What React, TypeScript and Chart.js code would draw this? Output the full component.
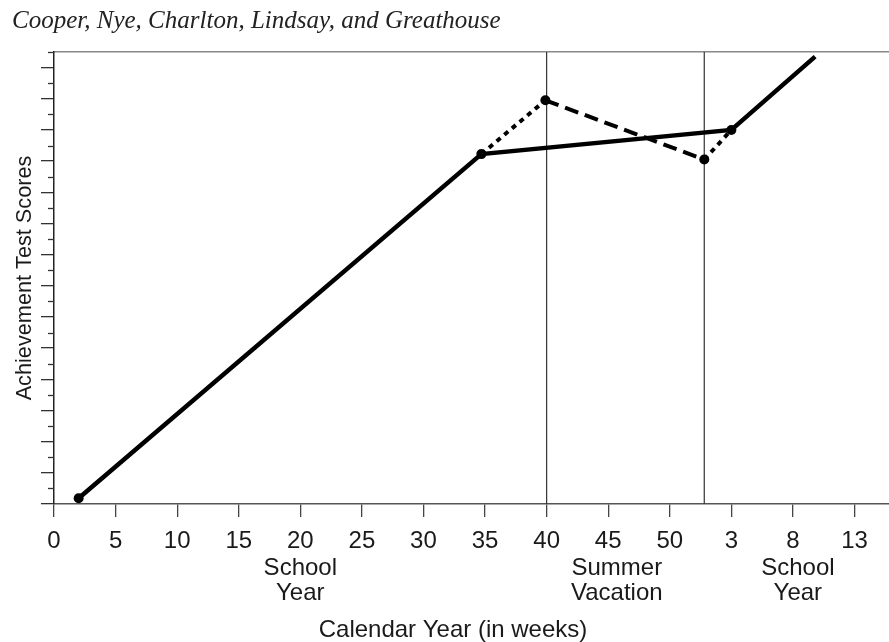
import React, { useEffect, useRef } from "react";
import { Chart, registerables } from "chart.js";

Chart.register(...registerables);

const headerText = "Cooper, Nye, Charlton, Lindsay, and Greathouse";
const yTitle = "Achievement Test Scores";
const xTitle = "Calendar Year (in weeks)";

const xTickValues = [0, 5, 10, 15, 20, 25, 30, 35, 40, 45, 50, 55, 60, 65];
const xTickLabels = ["0", "5", "10", "15", "20", "25", "30", "35", "40", "45", "50", "3", "8", "13"];

const periodLabels = [["School", "Year"], ["Summer", "Vacation"], ["School", "Year"]];
const periodCenters = [20, 45.7, 60.4];

const weekMin = 0;
const weekMax = 67.8;
const scoreMin = 0;
const scoreMax = 29;

// solid line: continuous school-year growth path
const solidWeeks = [2, 34.7, 55, 61.8];
const solidScores = [0.37, 22.45, 24.0, 28.7];
const solidPointRadius = [5, 5, 5, 0];

// dotted rise, dashed summer loss, dotted rebound
const riseWeeks = [34.7, 39.9];
const riseScores = [22.45, 25.9];
const lossWeeks = [39.9, 52.8];
const lossScores = [25.9, 22.1];
const reboundWeeks = [52.8, 55];
const reboundScores = [22.1, 24.0];

const vacationStart = 40;
const yearEnd = 52.8;

const pts = (xs: number[], ys: number[]) => xs.map((x, i) => ({ x, y: ys[i] }));

const annotate = {
  id: "annotate",
  afterDraw(chart: any) {
    const { ctx, chartArea, scales } = chart;
    const y = scales.y;
    const x = scales.x;
    ctx.save();
    ctx.strokeStyle = "#333";
    ctx.lineWidth = 1.3;
    y.ticks.forEach((t: any) => {
      if (Math.round(t.value) % 2 === 1) {
        const py = Math.round(y.getPixelForValue(t.value)) + 0.5;
        ctx.beginPath();
        ctx.moveTo(chartArea.left - 6, py);
        ctx.lineTo(chartArea.left, py);
        ctx.stroke();
      }
    });
    ctx.fillStyle = "#1a1a1a";
    ctx.font = "24px 'Liberation Sans', Arial, sans-serif";
    ctx.textAlign = "center";
    ctx.textBaseline = "middle";
    periodLabels.forEach((lines, i) => {
      const px = x.getPixelForValue(periodCenters[i]);
      lines.forEach((ln, j) => ctx.fillText(ln, px, chartArea.bottom + 64 + j * 25));
    });
    ctx.fillText(xTitle, 453, chartArea.bottom + 126);
    ctx.restore();
  },
};

export default function App() {
  const ref = useRef<HTMLCanvasElement>(null);

  useEffect(() => {
    if (!ref.current) return;
    const chart = new Chart(ref.current, {
      type: "line",
      data: {
        datasets: [
          {
            data: pts(solidWeeks, solidScores),
            borderColor: "#000",
            backgroundColor: "#000",
            borderWidth: 4.5,
            pointRadius: solidPointRadius,
            pointBorderWidth: 0,
            tension: 0,
          },
          {
            data: pts(riseWeeks, riseScores),
            borderColor: "#000",
            backgroundColor: "#000",
            borderWidth: 4,
            borderDash: [5, 5],
            pointRadius: [0, 5],
            pointBorderWidth: 0,
          },
          {
            data: pts(lossWeeks, lossScores),
            borderColor: "#000",
            backgroundColor: "#000",
            borderWidth: 4,
            borderDash: [14, 7],
            pointRadius: [0, 5],
            pointBorderWidth: 0,
          },
          {
            data: pts(reboundWeeks, reboundScores),
            borderColor: "#000",
            backgroundColor: "#000",
            borderWidth: 4,
            borderDash: [5, 5],
            pointRadius: 0,
          },
          {
            data: pts([vacationStart, vacationStart], [scoreMin, scoreMax]),
            borderColor: "#333",
            borderWidth: 1.2,
            pointRadius: 0,
          },
          {
            data: pts([yearEnd, yearEnd], [scoreMin, scoreMax]),
            borderColor: "#333",
            borderWidth: 1.2,
            pointRadius: 0,
          },
        ],
      },
      options: {
        animation: false,
        responsive: false,
        layout: { autoPadding: false, padding: { left: 12, top: 0, right: 0, bottom: 0 } },
        plugins: {
          legend: { display: false },
          tooltip: { enabled: false },
          title: {
            display: true,
            text: headerText,
            align: "start",
            color: "#222",
            font: { family: "'Liberation Serif', 'Times New Roman', serif", size: 25, style: "italic", weight: "normal", lineHeight: 1.2 },
            padding: { top: 6, bottom: 16 },
          },
        },
        scales: {
          x: {
            type: "linear",
            min: weekMin,
            max: weekMax,
            afterBuildTicks: (s: any) => {
              s.ticks = xTickValues.map((v) => ({ value: v }));
            },
            afterFit: (s: any) => {
              s.height = 138;
            },
            ticks: {
              autoSkip: false,
              maxRotation: 0,
              padding: 10,
              color: "#1a1a1a",
              font: { family: "'Liberation Sans', Arial, sans-serif", size: 24 },
              callback: (v: any) => {
                const i = xTickValues.indexOf(Number(v));
                return i >= 0 ? xTickLabels[i] : "";
              },
            },
            grid: { drawOnChartArea: false, drawTicks: true, tickLength: 13, color: "#444", lineWidth: 1.3 },
            border: { display: true, color: "#555", width: 1.5 },
          },
          x2: {
            type: "linear",
            position: "top",
            min: weekMin,
            max: weekMax,
            afterFit: (s: any) => {
              s.height = 0;
            },
            ticks: { display: false },
            grid: { display: false, drawTicks: false },
            border: { display: true, color: "#888", width: 1.5 },
          },
          y: {
            type: "linear",
            min: scoreMin,
            max: scoreMax,
            afterFit: (s: any) => {
              s.width = 42;
            },
            ticks: { display: false, stepSize: 1 },
            grid: {
              drawOnChartArea: false,
              drawTicks: true,
              tickLength: 13,
              lineWidth: 1.3,
              color: (c: any) => (c.tick && Math.round(c.tick.value) % 2 === 0 && c.tick.value < scoreMax ? "#333" : "rgba(0,0,0,0)"),
            },
            border: { display: true, color: "#222", width: 1.5 },
            title: {
              display: true,
              text: yTitle,
              color: "#1a1a1a",
              font: { family: "'Liberation Sans', Arial, sans-serif", size: 21.7 },
              padding: { top: 0, bottom: 0 },
            },
          },
        },
      },
      plugins: [annotate],
    });
    return () => chart.destroy();
  }, []);

  return (
    <div style={{ position: "absolute", left: 0, top: 0, width: 889, height: 642, background: "#fff" }}>
      <canvas ref={ref} width={889} height={642} />
    </div>
  );
}
